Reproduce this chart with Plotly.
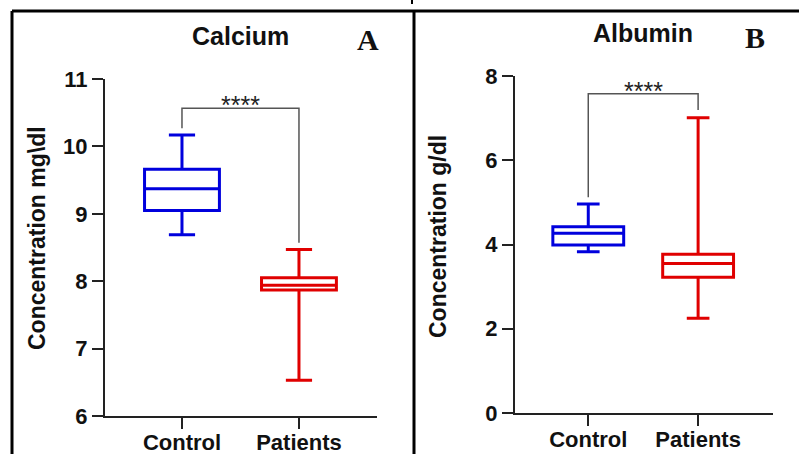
import plotly.graph_objects as go

W, H = 799, 454

groups = ["Control", "Patients"]
group_pos = [0, 1]
colors = ["#0000dd", "#e00000"]

# Panel A: Calcium (mg\dl)
ca_low = [8.69, 6.53]
ca_q1 = [9.05, 7.87]
ca_med = [9.37, 7.94]
ca_q3 = [9.66, 8.05]
ca_high = [10.17, 8.47]
ca_ticks = [6, 7, 8, 9, 10, 11]
ca_bracket = [10.27, 10.565, 10.565, 8.57]

# Panel B: Albumin (g/dl)
al_low = [3.83, 2.25]
al_q1 = [3.99, 3.22]
al_med = [4.27, 3.55]
al_q3 = [4.42, 3.77]
al_high = [4.96, 7.01]
al_ticks = [0, 2, 4, 6, 8]
al_bracket = [5.12, 7.58, 7.58, 7.19]

sig_label = "****"

fig = go.Figure()

def add_panel(xa, ya, low, q1, med, q3, high, bracket, bw, ww):
    for i in range(2):
        fig.add_trace(go.Box(
            x=[group_pos[i]], q1=[q1[i]], median=[med[i]], q3=[q3[i]],
            lowerfence=[low[i]], upperfence=[high[i]],
            width=bw, whiskerwidth=ww, boxpoints=False,
            line=dict(color=colors[i], width=3),
            fillcolor="rgba(0,0,0,0)",
            xaxis=xa, yaxis=ya, showlegend=False, hoverinfo="skip"))
    fig.add_trace(go.Scatter(
        x=[group_pos[0], group_pos[0], group_pos[1], group_pos[1]], y=bracket,
        mode="lines", line=dict(color="#555555", width=1.5),
        xaxis=xa, yaxis=ya, showlegend=False, hoverinfo="skip"))

add_panel("x", "y", ca_low, ca_q1, ca_med, ca_q3, ca_high, ca_bracket, 0.64, 0.35)
add_panel("x2", "y2", al_low, al_q1, al_med, al_q3, al_high, al_bracket, 0.645, 0.32)

sans = "Liberation Sans"
serif = "Liberation Serif"
ytickfont = dict(family=sans, size=22, color="#111111")
xtickfont = dict(family=sans, size=22, color="#111111")
axis_common = dict(showline=True, linecolor="#222222", linewidth=2,
                   ticks="outside", ticklen=11, tickwidth=2, tickcolor="#222222",
                   showgrid=False, zeroline=False, automargin=False)

fig.update_layout(
    template="none",
    width=W, height=H, margin=dict(l=0, r=0, t=0, b=0, autoexpand=False),
    paper_bgcolor="white", plot_bgcolor="white", showlegend=False,
    xaxis=dict(domain=[105 / W, 377 / W], range=[-0.658, 1.667],
               tickvals=group_pos, ticktext=["<b>%s</b>" % g for g in groups],
               anchor="y", tickfont=xtickfont, ticklabelstandoff=-5, **axis_common),
    yaxis=dict(domain=[1 - 416 / H, 1 - 79 / H], range=[6, 11],
               tickvals=ca_ticks, ticktext=["<b>%d</b>" % t for t in ca_ticks],
               anchor="x", tickfont=ytickfont, **axis_common),
    xaxis2=dict(domain=[515 / W, 772.7 / W], range=[-0.667, 1.679],
                tickvals=group_pos, ticktext=["<b>%s</b>" % g for g in groups],
                anchor="y2", tickfont=xtickfont, ticklabelstandoff=-5, **axis_common),
    yaxis2=dict(domain=[1 - 413 / H, 1 - 76 / H], range=[0, 8],
                tickvals=al_ticks, ticktext=["<b>%d</b>" % t for t in al_ticks],
                anchor="x2", tickfont=ytickfont, **axis_common),
)

ann = [
    dict(text="<b>Calcium</b>", x=240 / W, y=1 - 36 / H, font=dict(family=sans, size=25, color="#111")),
    dict(text="<b>A</b>", x=368 / W, y=1 - 39 / H, font=dict(family=serif, size=30, color="#111")),
    dict(text="<b>Albumin</b>", x=643 / W, y=1 - 33 / H, font=dict(family=sans, size=25, color="#111")),
    dict(text="<b>B</b>", x=755 / W, y=1 - 38 / H, font=dict(family=serif, size=30, color="#111")),
    dict(text="<b>Concentration mg\\dl</b>", x=37 / W, y=1 - 238 / H, textangle=-90,
         font=dict(family=sans, size=23, color="#111")),
    dict(text="<b>Concentration g/dl</b>", x=438 / W, y=1 - 237 / H, textangle=-90,
         font=dict(family=sans, size=23, color="#111")),
]
for a in ann:
    a.update(xref="paper", yref="paper", showarrow=False, xanchor="center", yanchor="middle")
    fig.add_annotation(**a)

for xr, yr, br in (("x", "y", ca_bracket), ("x2", "y2", al_bracket)):
    fig.add_annotation(text=sig_label, x=0.5, y=br[1], xref=xr, yref=yr,
                       yanchor="middle", yshift=3, showarrow=False,
                       font=dict(family=sans, size=25, color="#222"))

border = dict(color="black", width=3)
top_y = 1 - 11 / H
fig.add_shape(type="line", xref="paper", yref="paper", x0=12 / W, x1=12 / W, y0=0, y1=top_y, line=border)
fig.add_shape(type="line", xref="paper", yref="paper", x0=12 / W, x1=1, y0=top_y, y1=top_y, line=border)
fig.add_shape(type="line", xref="paper", yref="paper", x0=414 / W, x1=414 / W, y0=0, y1=top_y, line=border)
fig.add_shape(type="line", xref="paper", yref="paper", x0=412 / W, x1=412 / W, y0=1 - 4 / H, y1=1, line=dict(color="black", width=2))

fig.write_html("out.html", config={"displayModeBar": False},
               post_script="document.body.style.margin='0';document.body.style.overflow='hidden';")
